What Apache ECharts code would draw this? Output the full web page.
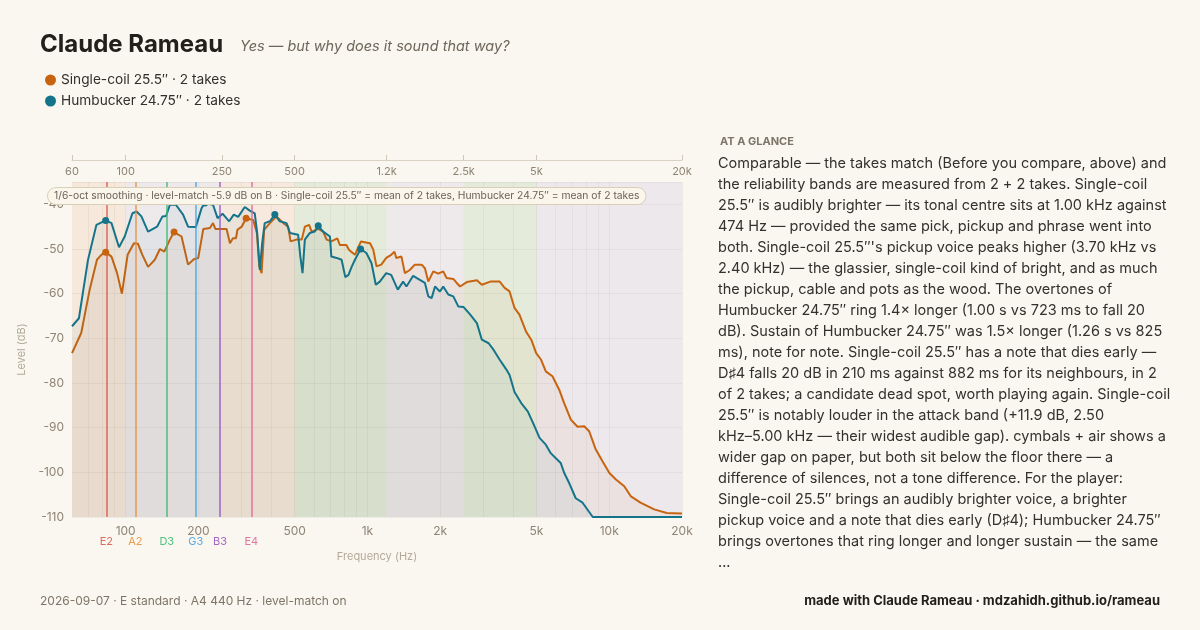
<!DOCTYPE html>
<html lang="en">
<head>
<meta charset="UTF-8">
<title>Claude Rameau</title>
<script src="https://cdn.jsdelivr.net/npm/echarts@6/dist/echarts.min.js"></script>
<style>
  html, body { margin: 0; padding: 0; background: #faf7f0; }
  #main { width: 1200px; height: 630px; }
</style>
</head>
<body>
<div id="main"></div>
<script>
// Single-coil 25.5" (orange): frequency (Hz) and level (dB)
var freqA = [60, 65.5, 71, 76.1, 79.3, 82.7, 87.4, 92.2, 96.5, 101.9, 108.2, 112.4, 117.3, 123.8, 132, 138.6,
  144.5, 152.4, 158.6, 170.3, 181.2, 191.4, 199.7, 209.5, 223.2, 229.8, 235, 261.6, 270, 277.8, 286, 290,
  302, 315, 337, 349, 357, 365, 374, 395, 421, 449, 470, 481, 508, 535, 551, 574, 588, 626, 656, 678, 709,
  751, 769, 818, 840, 888, 940, 1025, 1058, 1090, 1141, 1196, 1254, 1294, 1316, 1383, 1428, 1497, 1570,
  1675, 1729, 1785, 1872, 1963, 2058, 2126, 2266, 2340, 2416, 2577, 2836, 2973, 3222, 3525, 3694, 3872,
  4058, 4253, 4530, 4760, 4987, 5228, 5468, 5825, 6210, 6510, 6940, 7395, 7880, 8262, 8800, 9380, 10000,
  10660, 11540, 12300, 13470, 15340, 17300, 20000];
var dbA = [-73.3, -68.8, -59.1, -52.4, -51.3, -50.7, -51.7, -55.4, -60, -51.3, -48.7, -48.8, -51.3, -54, -52.4, -50,
  -50.6, -47.9, -46.2, -47.2, -53.5, -52.3, -52, -45.5, -45.3, -44.2, -45.5, -45.5, -48.7, -47.6, -47.6, -45.7,
  -45, -43.1, -43.5, -46.4, -53.9, -55.4, -45.7, -44.2, -42.7, -44.2, -45, -48.3, -47.9, -47.9, -45, -44.6, -46.1, -45.5, -46.1, -47.9, -48.3,
  -47.6, -49.1, -49.1, -50.2, -51.3, -48.3, -48.7, -50.2, -53.9, -53.5, -52, -51.3, -50.6, -52, -51.7, -55.4, -54.7, -53.5,
  -53.5, -54.3, -57.3, -55, -55.5, -55, -56.5, -56.7, -57.6, -58.4, -57.4, -57, -58, -57.3, -57.3, -58.7, -59.5,
  -63.2, -64.7, -68.5, -70.3, -73.3, -74.8, -77.4, -78.5, -81.5, -84.5, -88.2, -89.8, -89.7, -90.8, -94.9, -97.5, -100.1,
  -101.6, -103.1, -105.4, -106.8, -108.3, -109.1, -109.2];

// Humbucker 24.75" (teal)
var freqB = [60, 64.1, 69.9, 75.7, 82.7, 87.4, 93.9, 99.1, 106.7, 111, 116.2, 123.8, 134.9, 142, 147, 152.4,
  161.3, 172.8, 181.2, 195, 206, 212.4, 229.8, 240, 251.6, 268, 280, 292, 311, 326, 342, 350, 359, 367, 376,
  395, 414, 434, 463, 478, 517, 528, 539, 551, 578, 606, 626, 656, 700, 709, 746, 782, 810, 835, 862, 888,
  937, 990, 1040, 1083, 1125, 1196, 1254, 1335, 1405, 1450, 1546, 1647, 1729, 1785, 1843, 1903, 1995, 2058,
  2160, 2266, 2378, 2500, 2662, 2836, 2973, 3173, 3327, 3525, 3756, 3872, 4058, 4326, 4610, 4912, 5150, 5468,
  5730, 6000, 6300, 6510, 6830, 7270, 7760, 8550, 20000];
var dbB = [-67.3, -65.5, -52.4, -44.6, -43.6, -44.2, -49.6, -47.2, -42, -41.6, -42.7, -46.1, -45, -42.7, -42.6, -40.1,
  -40.1, -42.3, -45, -45.1, -40.9, -39.7, -40.1, -43.1, -42.1, -43.8, -42.3, -42.8, -40.6, -41.4, -42, -46.4, -54.7, -48.7, -44.2,
  -43.8, -42.3, -43.8, -44.2, -46.4, -46.8, -51.7, -55.4, -47.9, -46.4, -46.1, -44.8, -46.1, -47.2, -51.7, -52, -52.4, -56.3, -55.8, -53.9, -52.4,
  -50, -50.9, -53.2, -58, -57.3, -55.4, -55.8, -59.1, -57.3, -58.4, -56, -56.9, -57.6, -60.6, -61, -58.4, -59.5, -58.4,
  -60.2, -60.6, -62.9, -63, -64.7, -66.6, -70.3, -71.1, -72.6, -74.8, -77, -78.2, -82, -84.5, -86.4, -89.7, -92.3, -93.8,
  -95.7, -96.8, -97.9, -100.1, -102.4, -105.8, -106.8, -110, -110];

// marked peaks [Hz, dB]
var peaksA = [[82.7, -50.7], [158.6, -46.2], [315, -43.1]];
var peaksB = [[82.7, -43.6], [212.4, -39.7], [414, -42.3], [626, -44.8], [937, -50]];

// frequency bands and open-string notes
var bandEdges = [60, 100, 250, 500, 1200, 2500, 5000, 20000];
var bandColors = ['rgba(232,140,100,0.14)', 'rgba(140,120,200,0.10)', 'rgba(232,140,100,0.13)',
  'rgba(110,170,100,0.15)', 'rgba(140,120,200,0.10)', 'rgba(110,170,100,0.15)', 'rgba(140,120,200,0.11)'];
var noteNames = ['E2', 'A2', 'D3', 'G3', 'B3', 'E4'];
var noteFreqs = [82.41, 110, 146.83, 196, 246.94, 329.63];
var noteColors = ['#dc5a50', '#e8913f', '#3dba6f', '#4aa3e0', '#9a57bf', '#e0669a'];

var bottomTicks = [100, 200, 500, 1000, 2000, 5000, 10000, 20000];
var gridFreqs = [70, 80, 90, 100, 200, 300, 400, 500, 600, 700, 800, 900, 1000, 2000, 3000, 4000, 5000,
  6000, 7000, 8000, 9000, 10000, 20000];
var topTicks = [60, 100, 250, 500, 1200, 2500, 5000, 20000];

var ORANGE = '#c8640f', TEAL = '#15748a';
var lg = Math.log10;

function fmtHz(v) {
  var f = Math.round(Math.pow(10, v) * 10) / 10;
  if (f >= 1000) return (Math.round(f / 100) / 10) + 'k';
  return String(Math.round(f));
}
function pairs(fs, ds) { return fs.map(function (f, i) { return [lg(f), ds[i]]; }); }
function peakPts(list) {
  return list.map(function (p) { return { coord: [lg(p[0]), p[1]] }; });
}

var bandAreas = [];
for (var i = 0; i < bandEdges.length - 1; i++) {
  bandAreas.push([{ xAxis: lg(bandEdges[i]), itemStyle: { color: bandColors[i] } }, { xAxis: lg(bandEdges[i + 1]) }]);
}
var noteLines = noteNames.map(function (n, i) {
  return {
    xAxis: lg(noteFreqs[i]),
    lineStyle: { color: noteColors[i], width: 1.5, type: 'solid', opacity: 0.9 },
    label: { formatter: n, color: noteColors[i] }
  };
});

var nameA = 'Single-coil 25.5″ · 2 takes';
var nameB = 'Humbucker 24.75″ · 2 takes';

var para = [
  'Comparable — the takes match (Before you compare, above) and',
  'the reliability bands are measured from 2 + 2 takes. Single-coil',
  '25.5″ is audibly brighter — its tonal centre sits at 1.00 kHz against',
  '474 Hz — provided the same pick, pickup and phrase went into',
  'both. Single-coil 25.5″\'s pickup voice peaks higher (3.70 kHz vs',
  '2.40 kHz) — the glassier, single-coil kind of bright, and as much',
  'the pickup, cable and pots as the wood. The overtones of',
  'Humbucker 24.75″ ring 1.4× longer (1.00 s vs 723 ms to fall 20',
  'dB). Sustain of Humbucker 24.75″ was 1.5× longer (1.26 s vs 825',
  'ms), note for note. Single-coil 25.5″ has a note that dies early —',
  'D♯4 falls 20 dB in 210 ms against 882 ms for its neighbours, in 2',
  'of 2 takes; a candidate dead spot, worth playing again. Single-coil',
  '25.5″ is notably louder in the attack band (+11.9 dB, 2.50',
  'kHz–5.00 kHz — their widest audible gap). cymbals + air shows a',
  'wider gap on paper, but both sit below the floor there — a',
  'difference of silences, not a tone difference. For the player:',
  'Single-coil 25.5″ brings an audibly brighter voice, a brighter',
  'pickup voice and a note that dies early (D♯4); Humbucker 24.75″',
  'brings overtones that ring longer and longer sustain — the same',
  '...'
];

var FONT = 'Inter, "Noto Sans", sans-serif';
var myChart = echarts.init(document.getElementById('main'));
var option = {
  backgroundColor: '#faf7f0',
  animation: false,
  textStyle: { fontFamily: FONT },
  legend: {
    left: 40, top: 68, orient: 'vertical', icon: 'circle', itemWidth: 11, itemHeight: 11, itemGap: 7,
    textStyle: { fontSize: 13.7, color: '#33302b', fontFamily: FONT },
    data: [nameA, nameB]
  },
  grid: { left: 72, right: 518, top: 182, bottom: 113 },
  xAxis: [{
    type: 'value', position: 'bottom', min: lg(60), max: lg(20000),
    name: 'Frequency (Hz)', nameLocation: 'middle', nameGap: 34,
    nameTextStyle: { color: '#b3aa99', fontSize: 11 },
    axisLine: { show: false },
    axisTick: { show: false, customValues: gridFreqs.map(lg) },
    axisLabel: { customValues: bottomTicks.map(lg), formatter: fmtHz, color: '#8d8474', fontSize: 12, margin: 8 },
    splitLine: { show: true, lineStyle: { color: 'rgba(90,80,70,0.07)', width: 1 } }
  }, {
    type: 'value', position: 'top', offset: 22, min: lg(60), max: lg(20000),
    axisLine: { show: true, lineStyle: { color: '#d9d1c3' } },
    axisTick: { show: true, length: 5, customValues: topTicks.map(lg), lineStyle: { color: '#cfc6b6' } },
    axisLabel: { inside: true, customValues: topTicks.map(lg), formatter: fmtHz, color: '#8d8474', fontSize: 11, margin: 6 },
    splitLine: { show: false }
  }],
  yAxis: {
    type: 'value', min: -110, max: -35, interval: 10,
    name: 'Level (dB)', nameLocation: 'middle', nameGap: 27,
    nameTextStyle: { color: '#b3aa99', fontSize: 11 },
    axisLine: { show: false }, axisTick: { show: false },
    axisLabel: { color: '#8d8474', fontSize: 12, margin: 8, showMaxLabel: false },
    splitLine: { lineStyle: { color: 'rgba(90,80,70,0.07)' } }
  },
  series: [{
    name: nameA, type: 'line', data: pairs(freqA, dbA), showSymbol: false, smooth: false,
    color: ORANGE, lineStyle: { width: 2, color: ORANGE },
    areaStyle: { origin: 'start', color: 'rgba(200,100,15,0.07)' },
    z: 3,
    markArea: { silent: true, data: bandAreas },
    markLine: {
      silent: true, symbol: 'none', animation: false,
      label: { position: 'start', distance: 19, fontSize: 11 },
      data: noteLines
    },
    markPoint: { symbol: 'circle', symbolSize: 7, itemStyle: { color: ORANGE }, label: { show: false }, data: peakPts(peaksA) }
  }, {
    name: nameB, type: 'line', data: pairs(freqB, dbB), showSymbol: false, smooth: false,
    color: TEAL, lineStyle: { width: 2, color: TEAL },
    areaStyle: { origin: 'start', color: 'rgba(21,116,138,0.07)' },
    z: 4,
    markPoint: { symbol: 'circle', symbolSize: 7, itemStyle: { color: TEAL }, label: { show: false }, data: peakPts(peaksB) }
  }],
  graphic: [
    { type: 'text', left: 40, top: 33, style: { text: 'Claude Rameau', font: 'bold 24px ' + FONT, fill: '#23201c' } },
    { type: 'text', left: 240, top: 39, style: { text: 'Yes — but why does it sound that way?', font: 'italic 14.5px ' + FONT, fill: '#6e665a' } },
    {
      type: 'text', left: 47, top: 187, z: 100,
      style: {
        text: '1/6-oct smoothing · level-match -5.9 dB on B · Single-coil 25.5″ = mean of 2 takes, Humbucker 24.75″ = mean of 2 takes',
        font: '10.3px ' + FONT, fill: '#6b6357', backgroundColor: '#faf6ec', borderColor: '#d9cfb6', borderWidth: 1,
        borderRadius: 10, padding: [3, 6, 3, 6]
      }
    },
    { type: 'text', left: 720, top: 136, style: { text: 'AT A GLANCE', font: 'bold 11px ' + FONT, fill: '#7d7567' } },
    { type: 'text', left: 718, top: 153, style: { text: para.join('\n'), font: '14.5px ' + FONT, lineHeight: 21, fill: '#34312c' } },
    { type: 'text', left: 40, top: 595, style: { text: '2026-09-07 · E standard · A4 440 Hz · level-match on', font: '12px ' + FONT, fill: '#7d7567' } },
    { type: 'text', right: 40, top: 595, style: { text: 'made with Claude Rameau · mdzahidh.github.io/rameau', font: 'bold 13px ' + FONT, fill: '#23201c' } }
  ]
};
myChart.setOption(option);
</script>
</body>
</html>
